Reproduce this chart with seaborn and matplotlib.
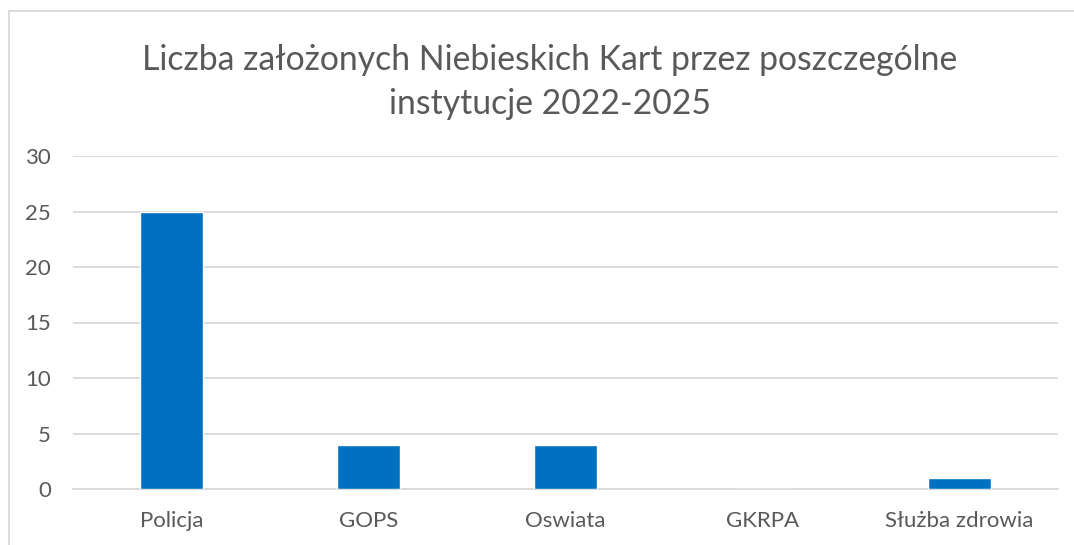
import matplotlib
matplotlib.use("Agg")
import matplotlib.pyplot as plt
import seaborn as sns
import pandas as pd
from matplotlib.patches import Rectangle

categories = ["Policja", "GOPS", "Oswiata", "GKRPA", "Służba zdrowia"]
values = [25, 4, 4, 0, 1]
yticks = [0, 5, 10, 15, 20, 25, 30]
title = "Liczba założonych Niebieskich Kart przez poszczególne\ninstytucje 2022-2025"

sns.set_theme(style="white")
plt.rcParams['font.family'] = ['Lato', 'DejaVu Sans']

df = pd.DataFrame({"cat": categories, "val": values})

fig = plt.figure(figsize=(10.74, 5.45), dpi=100)
ax = fig.add_axes([73/1074, 1-489/545, (1058-73)/1074, (489-156)/545])

sns.barplot(data=df, x="cat", y="val", color="#0070C0", saturation=1, width=0.315, ax=ax, zorder=3)

ax.set_ylim(0, 30)
ax.set_xlim(-0.5, 4.5)
ax.set_yticks(yticks)
ax.set_yticklabels([str(t) for t in yticks])
ax.grid(axis="y", color="#D9D9D9", linewidth=1.3, zorder=0)
ax.set_axisbelow(True)
for s in ["top", "right", "left"]:
    ax.spines[s].set_visible(False)
ax.spines["bottom"].set_color("#D9D9D9")
ax.spines["bottom"].set_linewidth(1.3)
ax.tick_params(axis="both", length=0, labelsize=16, colors="#595959")
ax.tick_params(axis="y", pad=16)
ax.tick_params(axis="x", pad=16)
ax.set_xlabel("")
ax.set_ylabel("")

fig.text(550/1074, 1-82/545, title, ha="center", va="center", fontsize=24.3, color="#595959", linespacing=1.5)

fig.patches.append(Rectangle((9/1074, -0.1), 1.2, 1-11/545+0.1, transform=fig.transFigure,
                             fill=False, edgecolor="#D9D9D9", linewidth=1.3))

fig.savefig("out.png", dpi=100)
